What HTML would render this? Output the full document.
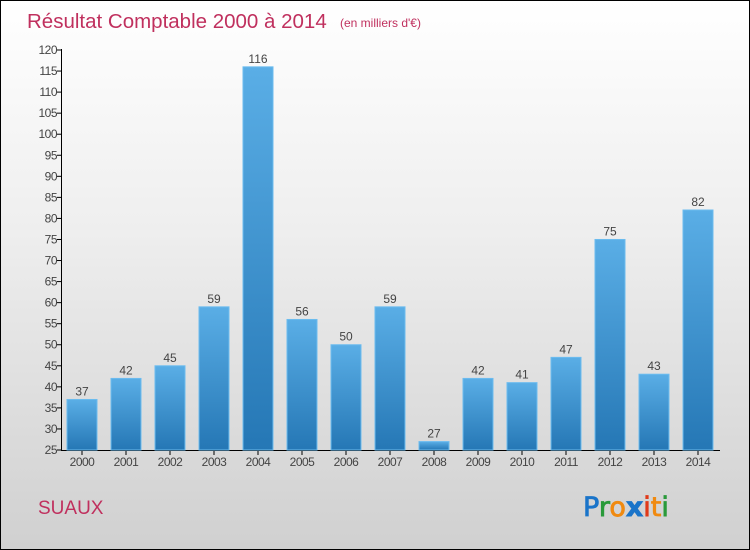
<!DOCTYPE html>
<html><head><meta charset="utf-8"><style>
html,body{margin:0;padding:0}
body{width:750px;height:550px;overflow:hidden;font-family:"Liberation Sans",sans-serif}
#wrap{position:absolute;left:0;top:0;width:748px;height:548px;border:1px solid #000;background:linear-gradient(#ffffff 0%,#efefef 40%,#d0d0d0 100%)}
</style></head><body>
<div id="wrap">
<svg width="750" height="550" style="position:absolute;left:-1px;top:-1px" id="chart">
<defs><linearGradient id="bg" x1="0" y1="0" x2="0" y2="1"><stop offset="0" stop-color="#5aaee6"/><stop offset="1" stop-color="#2577b5"/></linearGradient></defs>
<text x="27" y="28" font-size="20.5" fill="#c0305e">Résultat Comptable 2000 à 2014</text>
<text x="340" y="27" font-size="12" fill="#c0305e">(en milliers d'€)</text>
<text x="38" y="514" font-size="19" fill="#c0305e">SUAUX</text>
<g font-size="27" font-family="'DejaVu Sans',sans-serif">
<text x="583" y="516" stroke-width="0.8"><tspan fill="#1a74c9" stroke="#1a74c9">P</tspan><tspan fill="#2a9a3a" stroke="#2a9a3a">r</tspan><tspan fill="#f08a10" stroke="#f08a10">o</tspan><tspan fill="#1a74c9" stroke="#1a74c9" font-weight="bold">x</tspan><tspan fill="#e03a1a" stroke="#e03a1a">i</tspan><tspan fill="#f08a10" stroke="#f08a10">t</tspan><tspan fill="#2a9a3a" stroke="#2a9a3a">i</tspan></text></g>
<g id="axes"></g><g id="bars"></g>
</svg></div>
<script>
const years=["2000","2001","2002","2003","2004","2005","2006","2007","2008","2009","2010","2011","2012","2013","2014"];
const values=[37,42,45,59,116,56,50,59,27,42,41,47,75,43,82];
const yTicks=[25,30,35,40,45,50,55,60,65,70,75,80,85,90,95,100,105,110,115,120];
const NS="http://www.w3.org/2000/svg";
const y=v=>450-(v-25)*400/95;
const x=i=>82+i*44;
function mk(t,a,p,txt){const e=document.createElementNS(NS,t);for(const k in a)e.setAttribute(k,a[k]);if(txt!==undefined)e.textContent=txt;p.appendChild(e);return e;}
const ax=document.getElementById('axes'),bs=document.getElementById('bars');
const yl=mk('line',{x1:61.5,y1:49,x2:61.5,y2:450,stroke:'#000'},ax);


const xl=mk('line',{x1:61,y1:450.5,x2:720,y2:450.5,stroke:'#000'},ax);


yTicks.forEach(t=>{
 mk('line',{x1:57,y1:y(t),x2:61,y2:y(t),stroke:'#000'},ax);
 const l=mk('text',{x:57,y:y(t)+4,'font-size':12,fill:'#444','text-anchor':'end','letter-spacing':'-0.5'},ax,t);
 
 
});
values.forEach((v,i)=>{
 const b=mk('rect',{x:x(i)-15,y:y(v),width:30,height:450-y(v),fill:'url(#bg)',stroke:'#6cbcef','stroke-width':1},bs);
 
 
 const vl=mk('text',{x:x(i),y:y(v)-4,'font-size':12,fill:'#444','text-anchor':'middle'},bs,v);
 
 
 mk('line',{x1:x(i),y1:450,x2:x(i),y2:455,stroke:'#000'},ax);
 const xt=mk('text',{x:x(i),y:466,'font-size':12,fill:'#444','text-anchor':'middle','letter-spacing':'-0.5'},ax,years[i]);
 
 
});
</script>
</body></html>
